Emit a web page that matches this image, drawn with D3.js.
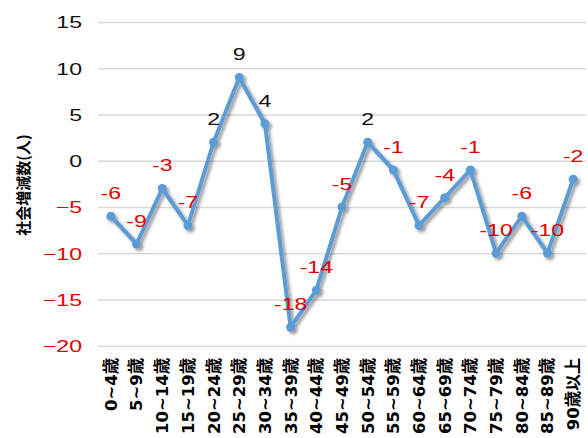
<!DOCTYPE html>
<html>
<head>
<meta charset="utf-8">
<script src="https://cdn.jsdelivr.net/npm/d3@7"></script>
<style>
  html, body { margin: 0; padding: 0; background: #fff; }
  svg { display: block; }
</style>
</head>
<body>
<svg id="chart" width="588" height="438"></svg>
<script>
// Age groups (5-year bands) and net migration per group, persons
const ageGroups = [
  "0~4歳", "5~9歳", "10~14歳", "15~19歳", "20~24歳", "25~29歳", "30~34歳",
  "35~39歳", "40~44歳", "45~49歳", "50~54歳", "55~59歳", "60~64歳",
  "65~69歳", "70~74歳", "75~79歳", "80~84歳", "85~89歳", "90歳以上"
];
const netMigration = [-6, -9, -3, -7, 2, 9, 4, -18, -14, -5, 2, -1, -7, -4, -1, -10, -6, -10, -2];
const yTicks = [15, 10, 5, 0, -5, -10, -15, -20];
const yTitle = "社会増減数(人)";

const plot = { left: 98, right: 586, top: 22, bottom: 345.7 };
const lineColor = "#5b9bd5";
const negColor = "#e00000";
const posColor = "#111";
const numFont = "'Liberation Sans', Arial, sans-serif";
const labelFont = "'DejaVu Sans', 'Noto Sans CJK JP', sans-serif";
const widen = 1.4;   // horizontal stretch of the numeric text

const svg = d3.select("#chart");

const x = d3.scaleBand().domain(ageGroups).range([plot.left, plot.right]);
const y = d3.scaleLinear().domain([-20, 15]).range([plot.bottom, plot.top]);
const cx = d => x(d) + x.bandwidth() / 2;

// Soft shadow under the series line
const defs = svg.append("defs");
const f = defs.append("filter").attr("id", "shadow")
  .attr("x", "-10%").attr("y", "-10%").attr("width", "130%").attr("height", "130%");
f.append("feDropShadow").attr("dx", 2.5).attr("dy", 2.5)
  .attr("stdDeviation", 1.6).attr("flood-color", "#000").attr("flood-opacity", 0.4);

// Y axis with gridlines
const yAxis = d3.axisLeft(y).tickValues(yTicks)
  .tickSize(-(plot.right - plot.left)).tickPadding(16).tickFormat(d3.format("d"));
const gy = svg.append("g").attr("transform", `translate(${plot.left},0)`).call(yAxis);
gy.select(".domain").remove();
gy.selectAll(".tick line").attr("stroke", "#d9d9d9").attr("stroke-width", 1.5);
gy.selectAll(".tick text")
  .attr("x", -16 / widen)
  .attr("dy", "0.36em")
  .attr("transform", `scale(${widen},1)`)
  .attr("font-family", numFont)
  .attr("font-size", 16.5)
  .attr("fill", d => d < 0 ? negColor : posColor);

// X axis: rotated age-group labels
const xAxis = d3.axisBottom(x).tickSize(0);
const gx = svg.append("g").attr("transform", `translate(0,${plot.bottom})`).call(xAxis);
gx.select(".domain").remove();
gx.selectAll(".tick text")
  .attr("transform", "rotate(-90)")
  .attr("text-anchor", "end")
  .attr("x", -12)
  .attr("y", 0)
  .attr("dy", "0.36em")
  .attr("font-family", labelFont)
  .attr("font-weight", "bold")
  .attr("font-size", 16.5)
  .attr("fill", "#000");

// Y axis title
svg.append("text")
  .attr("transform", "translate(24,185) rotate(-90)")
  .attr("text-anchor", "middle")
  .attr("dy", "0.36em")
  .attr("font-family", "'Noto Sans CJK JP', sans-serif")
  .attr("font-weight", "bold")
  .attr("font-size", 15)
  .attr("fill", "#000")
  .text(yTitle);

// Series line and markers
const series = ageGroups.map((g, i) => ({ g, v: netMigration[i] }));
const sg = svg.append("g").attr("filter", "url(#shadow)");
sg.append("path")
  .datum(series)
  .attr("fill", "none")
  .attr("stroke", lineColor)
  .attr("stroke-width", 4)
  .attr("stroke-linejoin", "round")
  .attr("d", d3.line().x(d => cx(d.g)).y(d => y(d.v)));
sg.selectAll("circle")
  .data(series)
  .join("circle")
  .attr("cx", d => cx(d.g))
  .attr("cy", d => y(d.v))
  .attr("r", 4.5)
  .attr("fill", lineColor);

// Value labels above each point
svg.append("g").selectAll("text")
  .data(series)
  .join("text")
  .attr("transform", d => `translate(${cx(d.g)},${y(d.v) - 23}) scale(${widen},1)`)
  .attr("text-anchor", "middle")
  .attr("dy", "0.36em")
  .attr("font-family", numFont)
  .attr("font-size", 16.5)
  .attr("fill", d => d.v < 0 ? negColor : posColor)
  .text(d => d.v);
</script>
</body>
</html>
